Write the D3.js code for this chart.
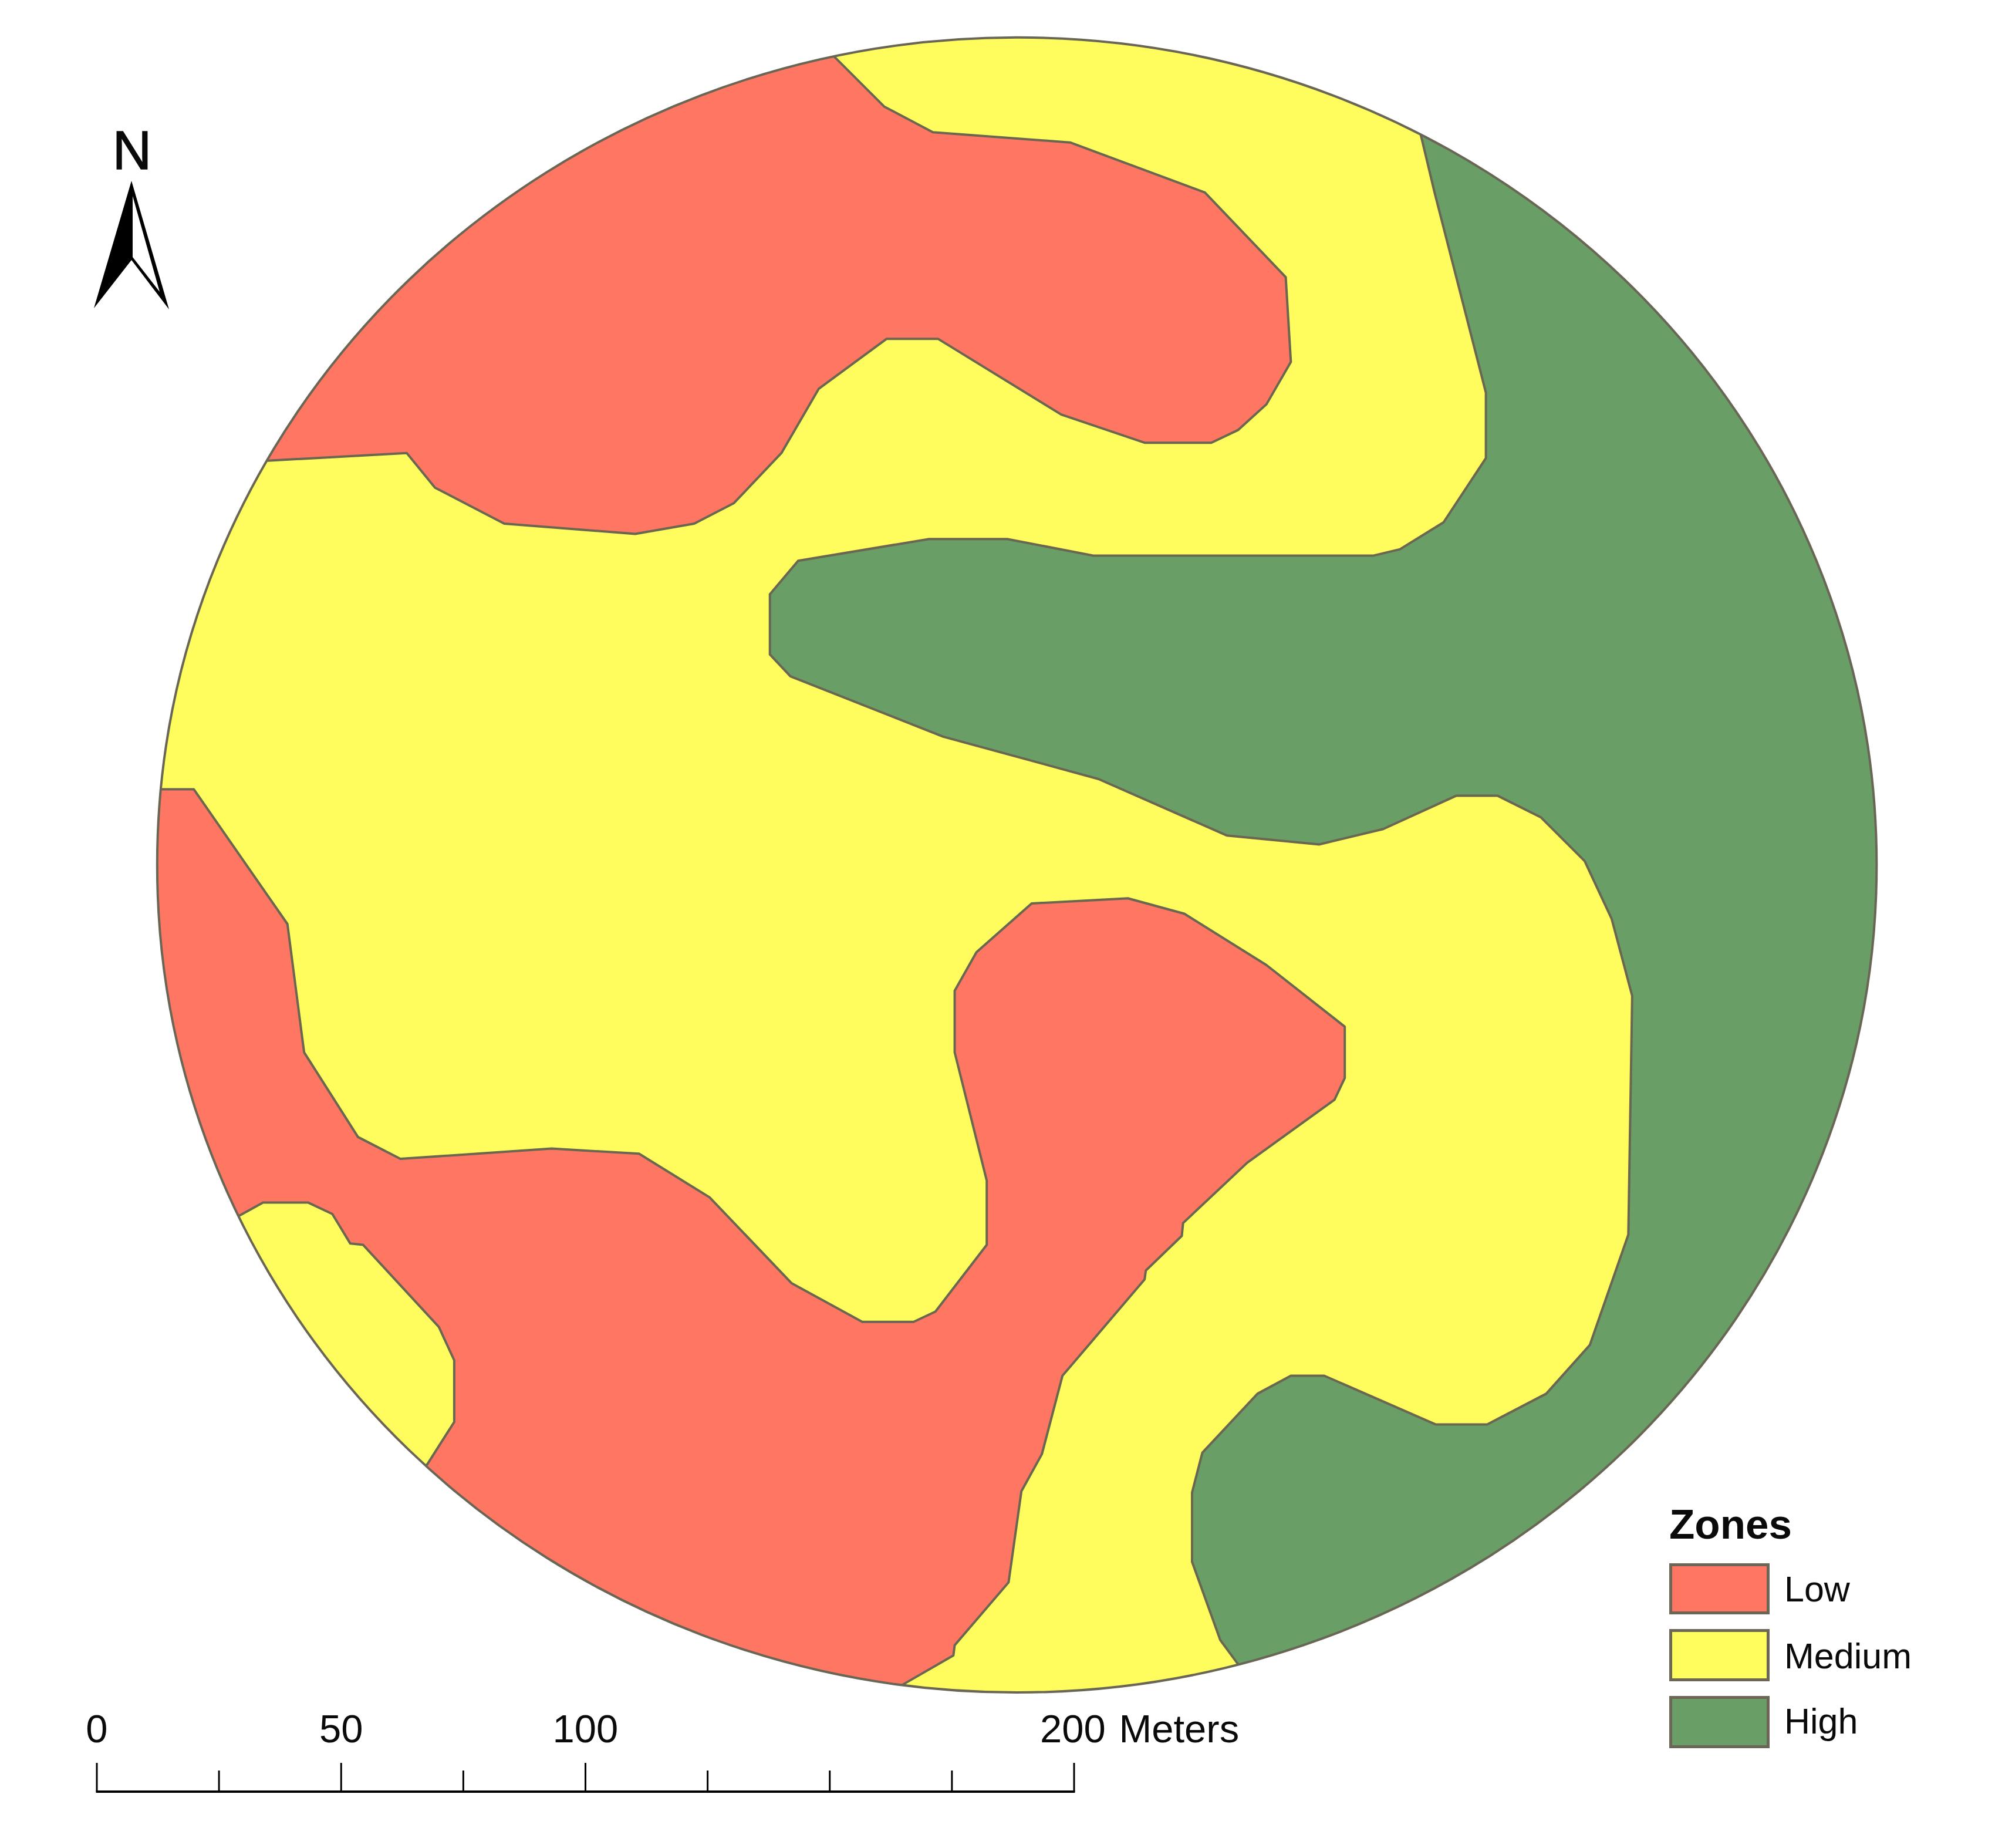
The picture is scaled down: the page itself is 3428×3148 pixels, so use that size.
<!DOCTYPE html>
<html><head><meta charset="utf-8">
<style>html,body{margin:0;padding:0;background:#fff}svg{display:block}text{font-family:"Liberation Sans",Arial,sans-serif;fill:#0a0a0a}</style>
<script src="https://cdn.jsdelivr.net/npm/d3@7"></script></head>
<body><div id="chart"></div>
<script>
const zoneNames = ["Low", "Medium", "High"];
const zoneColors = ["#FF7662", "#FFFD5E", "#699E67"];
const lowNorth = [[650,44],[689,83],[727,103],[834,111],[939,150],[1002,216],[1006,282],[987,315],[965,335],[944,345],[892,345],[827,323],[731,264],[691,264],[638,303],[609,353],[572,392],[541,408],[495,416],[393,408],[339,380],[317,353],[209,359],[100,300],[100,100],[400,-20],[650,-20]];
const lowSouth = [[100,615],[151,615],[224,720],[237,820],[279,886],[312,903],[430,895],[498,899],[553,933],[617,1000],[672,1030],[712,1030],[729,1022],[769,970],[769,920],[744,820],[744,772],[761,742],[804,704],[879,700],[923,712],[987,752],[1048,800],[1048,840],[1040,857],[972,906],[922,953],[921,963],[893,990],[892,997],[828,1072],[812,1133],[796,1162],[786,1233],[744,1282],[743,1290],[703,1313],[703,1420],[250,1420],[250,1200],[333,1141],[354,1108],[354,1060],[342,1034],[283,970],[273,969],[259,946],[240,937],[205,937],[187,947],[100,980],[60,800]];
const highEast = [[1107,104],[1118,150],[1158,306],[1158,357],[1125,407],[1091,428],[1070,433],[852,433],[785,420],[724,420],[622,437],[600,463],[600,510],[616,527],[735,574],[856,607],[956,651],[1028,658],[1078,646],[1135,620],[1167,620],[1201,637],[1235,671],[1256,716],[1272,776],[1269,962],[1239,1048],[1205,1086],[1159,1110],[1119,1110],[1032,1072],[1006,1072],[980,1086],[937,1132],[929,1163],[929,1217],[951,1278],[965,1297],[1000,1420],[1540,1420],[1540,-20],[1200,-20]];
const siteBoundary = {cx:792.5, cy:674, rx:670, ry:644.8};
const scaleMajor = [0, 50, 100, 200];
const scaleTicks = [0, 25, 50, 75, 100, 125, 150, 175, 200];

const W = 3428, H = 3148;
const x = d3.scaleLinear().domain([0,1568]).range([0,W]);
const y = d3.scaleLinear().domain([0,1440]).range([0,H]);
const meters = d3.scaleLinear().domain([0,200]).range([165,1830]);
const color = d3.scaleOrdinal().domain(zoneNames).range(zoneColors);
const line = d3.line().x(d=>x(d[0])).y(d=>y(d[1])).curve(d3.curveLinearClosed);

const svg = d3.select("#chart").append("svg").attr("width",W).attr("height",H).attr("viewBox",`0 0 ${W} ${H}`);
svg.append("rect").attr("width",W).attr("height",H).attr("fill","#fff");
const ell = s=>s.attr("cx",x(siteBoundary.cx)).attr("cy",y(siteBoundary.cy)).attr("rx",x(siteBoundary.rx)).attr("ry",y(siteBoundary.ry));
svg.append("clipPath").attr("id","site").append("ellipse").call(ell);
svg.append("ellipse").call(ell).attr("fill",color("Medium"));
const g = svg.append("g").attr("clip-path","url(#site)");
g.selectAll("path").data([["Low",lowNorth],["Low",lowSouth],["High",highEast]]).join("path")
  .attr("d",d=>line(d[1])).attr("fill",d=>color(d[0])).attr("stroke","#6a6650").attr("stroke-width",4).attr("stroke-linejoin","round");
svg.append("ellipse").call(ell).attr("fill","none").attr("stroke","#6a6655").attr("stroke-width",4);

// north arrow
svg.append("text").attr("x",225).attr("y",288).attr("text-anchor","middle").attr("font-size",92).attr("stroke","#0a0a0a").attr("stroke-width",1.5).text("N");
const arrowOuter = [[224,308],[160,525],[224,443],[288,527]];
const arrowInner = [[226,334],[272,497],[226,438]];
const px = d=>d.join(",");
svg.append("polygon").attr("points",arrowOuter.map(px).join(" ")).attr("fill","#000");
svg.append("polygon").attr("points",arrowInner.map(px).join(" ")).attr("fill","#fff");

// scale bar
const barY = 3052;
const sb = svg.append("g");
sb.append("line").attr("x1",meters(0)-1.5).attr("x2",meters(200)+1.5).attr("y1",barY).attr("y2",barY).attr("stroke","#000").attr("stroke-width",4);
sb.selectAll("line.t").data(scaleTicks).join("line").attr("class","t")
  .attr("x1",meters).attr("x2",meters).attr("y1",barY)
  .attr("y2",d=>scaleMajor.includes(d)?barY-49:barY-36).attr("stroke","#000").attr("stroke-width",3);
sb.selectAll("text").data(scaleMajor).join("text")
  .attr("x",d=>d===200?1772:meters(d)).attr("y",2968).attr("font-size",67).attr("word-spacing",4)
  .attr("text-anchor",d=>d===200?"start":"middle").text(d=>d===200?"200 Meters":d);

// legend
svg.append("text").attr("x",2844).attr("y",2621).attr("font-size",71).attr("font-weight","bold").text("Zones");
const rowY = [2665.5,2777.5,2891.5], labY = [2728,2842,2953];
const lg = svg.append("g").selectAll("g").data(zoneNames).join("g");
lg.append("rect").attr("x",2846.5).attr("y",(d,i)=>rowY[i]).attr("width",166).attr("height",(d,i)=>i==0?82:84).attr("fill",color).attr("stroke","#6b6655").attr("stroke-width",5);
lg.append("text").attr("x",3040).attr("y",(d,i)=>labY[i]).attr("font-size",61).text(d=>d);
</script></body></html>
